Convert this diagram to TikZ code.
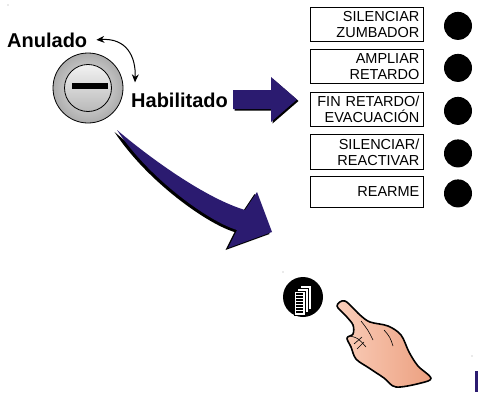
\documentclass[tikz,border=0pt]{standalone}
\usepackage{fontspec}
\setmainfont{Liberation Sans}
\usetikzlibrary{positioning,arrows.meta}
\definecolor{arrowblue}{RGB}{43,27,112}
\definecolor{skin}{RGB}{236,160,128}
\definecolor{skinlight}{RGB}{250,206,186}

\begin{document}
\begin{tikzpicture}[x=1pt,y=-1pt,
panel/.style={%
draw,
line width=0.8pt,
anchor=north west,
minimum width=113pt,
text width=105pt,
inner xsep=4pt,
align=right,
font=\fontsize{14.5}{16}\selectfont
},
led/.style={%
circle,
fill=black,
minimum size=28pt,
inner sep=0pt
},
mode/.style={%
font=\bfseries\fontsize{20}{24}\selectfont,
inner sep=0pt,
anchor=base west
},
speck/.style={%
fill=gray!70
},
]
\useasboundingbox (0,0) rectangle (478,412);
%% Specks
\fill[speck] (8,5) circle (0.7);
\fill[speck] (283,272) circle (0.7);
\fill[speck] (472,356) circle (0.7);
%% Key switch
\node[circle,draw,line width=0.8pt,minimum size=70pt,inner sep=0pt,
  inner color=gray!15,outer color=gray!65](key)at(88,88){};
\node[circle,draw,line width=0.8pt,minimum size=47pt,inner sep=0pt,
  top color=gray!10,bottom color=gray!55](plug)at(key){};
\node[fill=black,minimum width=36pt,minimum height=6pt,inner sep=0pt](slot)at(90,86){};
\node[mode](anulado)at(7,47){Anulado};
\node[mode](habilitado)at(131,107){Habilitado};
\draw[line width=1pt,{Stealth[length=8pt,width=7pt]}-{Stealth[length=8pt,width=7pt]}]
  ([xshift=9pt]anulado.east) .. controls +(30,-2) and +(1,-26) .. ([xshift=4pt,yshift=10pt]habilitado.north west);
%% Buttons
\foreach \i/\y/\h/\txt in {1/7/34/{SILENCIAR\\ZUMBADOR},2/49/34/{AMPLIAR\\RETARDO},
  3/92/34/{FIN RETARDO/\\EVACUACIÓN},4/134/35/{SILENCIAR/\\REACTIVAR},5/176/31/{REARME}}{%
\node[panel,minimum height=\h pt](b\i)at(310,\y){\txt};
\node[led,right=20pt of b\i,yshift=-1.5pt](l\i){};
}
%% Straight arrow to the buttons
\foreach \c/\d in {black/1.5,arrowblue/0}{%
\fill[\c,shift={(\d,\d)}] (233,90) -- (271,90) -- (271,77) -- (297,99.5)
  -- (271,122) -- (271,109) -- (233,109) -- cycle;
}
%% Curved arrow to the hand
\foreach \c/\dx/\dy in {black/-2.5/2,arrowblue/0/0}{%
\fill[\c,shift={(\dx,\dy)}] (117,130) .. controls (150,158) and (205,198) .. (245,210)
  -- (257,192) -- (272,232) -- (228,248) -- (237,230)
  .. controls (210,222) and (150,180) .. cycle;
}
%% Menu icon
\node[circle,fill=black,minimum size=40pt,inner sep=0pt](icon)at(303,297){};
\foreach \s in {6,3,0}{%
\filldraw[fill=white,draw=black,line width=0.6pt] (294+\s,291-\s) rectangle (305+\s,315-\s);
}
\foreach \l in {294,297,...,312}{%
\draw[line width=1.2pt] (296,\l) -- (303,\l);
}
%% Hand
\draw[line width=1.6pt,line join=round,left color=skinlight,right color=skin]
  plot[smooth cycle,tension=0.55] coordinates {(337,306) (345,301) (360,315) (370,322)
  (388,326) (401,335) (409,352) (418,366) (431,378) (421,383) (396,387) (384,378)
  (369,368) (356,359) (351,347) (347,338) (353,334) (353,325) (346,316)};
\draw[line width=0.6pt] (361,321) .. controls (368,330) .. (373,340);
\draw[line width=0.6pt] (384,330) .. controls (390,337) .. (393,346);
\draw[line width=0.6pt] (350,336) .. controls (358,338) .. (366,347);
\draw[line width=0.6pt] (354,344) -- (362,337);
\draw[line width=0.6pt] (357,349) -- (364,342);
%% Edge mark
\fill[arrowblue] (475,371) rectangle (478,392);
\end{tikzpicture}
\end{document}
